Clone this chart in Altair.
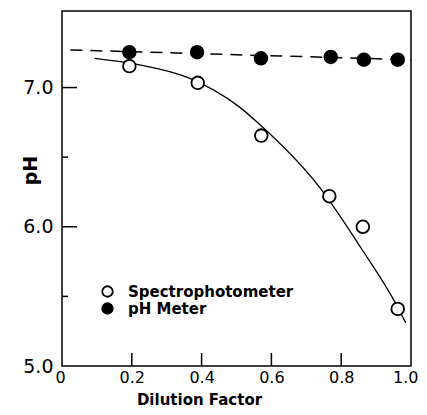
import altair as alt
import pandas as pd

# Measured points
dilution_spec = [0.193, 0.389, 0.571, 0.766, 0.862, 0.962]
ph_spec = [7.154, 7.034, 6.655, 6.22, 6.00, 5.41]
dilution_meter = [0.193, 0.387, 0.570, 0.770, 0.865, 0.962]
ph_meter = [7.254, 7.254, 7.21, 7.22, 7.20, 7.20]

# Drawn fit curves
fit_spec_x = [0.093, 0.219, 0.363, 0.506, 0.573, 0.736, 0.86, 0.956, 0.985]
fit_spec_y = [7.21, 7.165, 7.07, 6.865, 6.72, 6.29, 5.835, 5.45, 5.31]
fit_meter_x = [0.024, 1.0]
fit_meter_y = [7.27, 7.20]

series_names = ["Spectrophotometer", "pH Meter"]

# Tick values
x_tick_values = [0.2, 0.4, 0.6, 0.8]
x_label_values = [0, 0.2, 0.4, 0.6, 0.8, 1.0]
y_major_ticks = [6.0, 7.0]
y_minor_ticks = [5.5, 6.5]
y_label_values = [5.0, 6.0, 7.0]

FONT = "DejaVu Sans"

x_scale = alt.Scale(domain=[0, 1.0], nice=False, zero=False)
y_scale = alt.Scale(domain=[5.0, 7.55], nice=False, zero=False)

x_axis = alt.Axis(
    values=x_label_values,
    labelExpr="datum.value == 0 ? '0' : format(datum.value, '.1f')",
    title="Dilution Factor",
    titleFont=FONT, titleFontSize=15, titleFontWeight="bold",
    titleX=137, titleY=33, titleBaseline="middle", titleAlign="center",
    labelFont=FONT, labelFontSize=16, labelPadding=3,
    labelFlush=True, labelFlushOffset=7,
    labelBound=False, labelOverlap=False,
    ticks=False, domain=False, grid=False, labelColor="black", titleColor="black",
)
y_axis = alt.Axis(
    values=y_label_values,
    format=".1f",
    title="pH",
    titleFont=FONT, titleFontSize=19, titleFontWeight="bold",
    titleX=-32, titleY=159, titleAngle=-90, titleBaseline="middle", titleAlign="center",
    labelFont=FONT, labelFontSize=19, labelPadding=9,
    labelBound=False, labelOverlap=False, labelFlush=False,
    ticks=False, domain=False, grid=False, labelColor="black", titleColor="black",
)

X = alt.X("x:Q", scale=x_scale, axis=x_axis)
Y = alt.Y("y:Q", scale=y_scale, axis=y_axis)

meter_line = alt.Chart(pd.DataFrame({"x": fit_meter_x, "y": fit_meter_y})).mark_line(
    color="black", strokeWidth=1.5, strokeDash=[12, 8]
).encode(x=X, y=Y)

spec_line = alt.Chart(pd.DataFrame({"x": fit_spec_x, "y": fit_spec_y})).mark_line(
    color="black", strokeWidth=1.3, interpolate="monotone"
).encode(x=X, y=Y)

pts = pd.DataFrame({
    "x": dilution_spec + dilution_meter,
    "y": ph_spec + ph_meter,
    "series": [series_names[0]] * len(dilution_spec) + [series_names[1]] * len(dilution_meter),
})

points = alt.Chart(pts).mark_point(
    shape="circle", filled=True, stroke="black", strokeWidth=1.8, size=160,
    opacity=1, fillOpacity=1,
).encode(
    x=X, y=Y,
    fill=alt.Fill(
        "series:N",
        scale=alt.Scale(domain=series_names, range=["white", "black"]),
        sort=series_names,
        legend=alt.Legend(
            title=None, orient="none", legendX=38, legendY=273,
            labelFont=FONT, labelFontSize=15, labelFontWeight="bold", labelColor="black",
            labelOffset=13, labelLimit=300, symbolSize=110, symbolStrokeColor="black",
            symbolStrokeWidth=1.8, symbolType="circle", rowPadding=-5, padding=0,
        ),
    ),
)

y_major = alt.Chart(pd.DataFrame({"y": y_major_ticks})).mark_rule(
    color="black", strokeWidth=1.5
).encode(y=alt.Y("y:Q", scale=y_scale, axis=y_axis), x=alt.value(0), x2=alt.value(15))

y_minor = alt.Chart(pd.DataFrame({"y": y_minor_ticks})).mark_rule(
    color="black", strokeWidth=1.5
).encode(y=alt.Y("y:Q", scale=y_scale, axis=y_axis), x=alt.value(0), x2=alt.value(6))

x_ticks = alt.Chart(pd.DataFrame({"x": x_tick_values})).mark_rule(
    color="black", strokeWidth=1.5
).encode(x=alt.X("x:Q", scale=x_scale, axis=x_axis), y=alt.value(355), y2=alt.value(342))

chart = alt.layer(meter_line, spec_line, y_major, y_minor, x_ticks, points).properties(
    width=349, height=355,
    autosize=alt.AutoSizeParams(type="none"),
    padding={"left": 54, "top": 3, "right": 8, "bottom": 41},
).configure(
    background="white",
    view=alt.ViewConfig(stroke="black", strokeWidth=1.5),
)

chart.save("out.html", embed_options={"renderer": "svg", "actions": False})
